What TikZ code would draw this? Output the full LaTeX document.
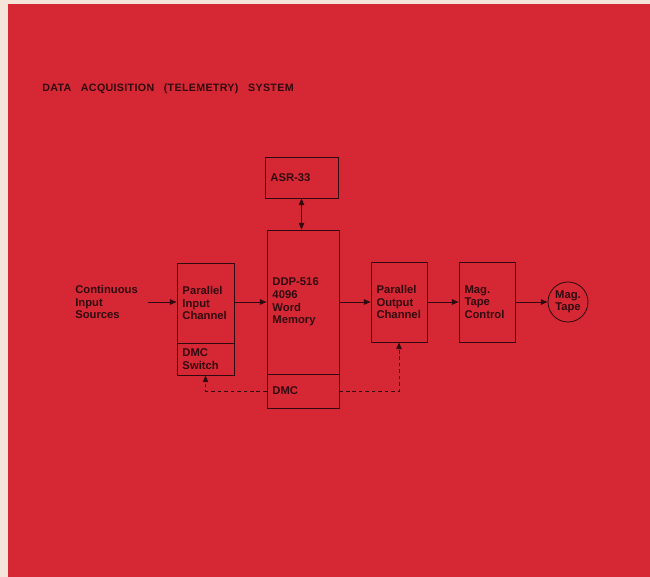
\documentclass[tikz,border=0pt]{standalone}
\usepackage{fontspec}
\setmainfont{Liberation Sans}
\usetikzlibrary{arrows.meta}
\definecolor{page}{RGB}{244,228,218}
\definecolor{cover}{RGB}{214,40,52}
\definecolor{ink}{RGB}{48,10,16}
\begin{document}
\begin{tikzpicture}[x=0.025cm, y=-0.025cm]
\tikzstyle{blk}=[draw=ink, rectangle, inner xsep=0.1375cm, inner ysep=0, align=left, text width=#1]
\tikzstyle{lbl}=[text=ink, font=\bfseries\fontsize{8}{8.9}\selectfont]
\tikzstyle{flow}=[draw=ink, line width=0.6pt, -{Triangle[length=0.17cm, width=0.14cm]}]
\tikzstyle{ctrl}=[flow, dash pattern=on 2.6pt off 2pt]
\useasboundingbox (0,0) rectangle (650,577);
\fill[page] (0,0) rectangle (650,577);
\fill[cover] (8,4) rectangle (650,577);
\node[anchor=west, text=ink, font=\bfseries\fontsize{7.6}{8}\selectfont\addfontfeature{LetterSpace=3}, inner sep=0] (title) at (42,89) {DATA\hspace{4.5pt} ACQUISITION\hspace{4.5pt} (TELEMETRY)\hspace{4.5pt} SYSTEM};
% blocks
\node[blk=1.55cm, lbl, line width=0.6pt, minimum height=1.025cm] (asr) at (301.5,177.5) {ASR-33};
\node[blk=1.525cm, lbl, line width=0.6pt, minimum height=3.6cm] (ddp) at (303,302) {DDP-516\\4096\\Word\\Memory};
\node[blk=1.525cm, lbl, line width=0.6pt, minimum height=0.85cm] (dmc) at (303,391) {DMC};
\node[blk=1.15cm, lbl, line width=0.6pt, minimum height=2cm] (pic) at (205.5,303) {Parallel\\Input\\Channel};
\node[blk=1.15cm, lbl, line width=0.6pt, minimum height=0.8cm] (sw) at (205.5,359) {DMC\\Switch};
\node[blk=1.125cm, lbl, line width=0.6pt, minimum height=2cm] (poc) at (399,302) {Parallel\\Output\\Channel};
\node[blk=1.125cm, lbl, line width=0.6pt, minimum height=2cm] (mtc) at (487,302) {Mag.\\Tape\\Control};
\node[draw=ink, circle, lbl, line width=0.6pt, minimum size=1cm, inner sep=0, align=center] (tape) at (568,302) {Mag.\\Tape};
\node[lbl, anchor=west, inner sep=0, text width=1.8cm, align=left] (src) at (75,302) {Continuous\\Input\\Sources};
% connectors
\draw[flow] (src.east) -- (src.east -| pic.west);
\draw[flow] (pic.east |- src.east) -- (src.east -| ddp.west);
\draw[flow] (ddp.east |- poc.west) -- (poc.west);
\draw[flow] (poc.east) -- (mtc.west);
\draw[flow] (mtc.east) -- (tape.west);
\draw[flow, {Triangle[length=0.17cm, width=0.14cm]}-{Triangle[length=0.17cm, width=0.14cm]}] (asr.south) -- (asr.south |- ddp.north);
\draw[ctrl] (dmc.west) -| (sw.south);
\draw[ctrl] (dmc.east) -| (poc.south);
\end{tikzpicture}
\end{document}
